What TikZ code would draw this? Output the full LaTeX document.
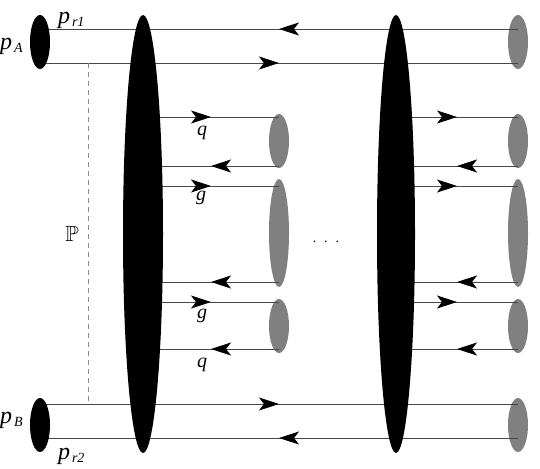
\documentclass[tikz,border=0pt]{standalone}
\usepackage{fontspec}
\usepackage{amssymb}
\setmainfont{Liberation Serif}
\usetikzlibrary{shapes.geometric,arrows.meta,decorations.markings}

\pgfdeclarelayer{bg}
\pgfdeclarelayer{mid}
\pgfsetlayers{bg,mid,main}

\tikzset{
  blob/.style={ellipse, fill=black, draw=none, inner sep=0pt, outer sep=0pt},
  greyblob/.style={ellipse, fill=black!50, draw=none, inner sep=0pt, outer sep=0pt},
  propline/.style={draw=black!72, line width=0.8pt},
  flowline/.style={propline, postaction={decorate, decoration={markings,
      mark=at position #1 with {\arrow{Stealth[length=20pt,width=13pt,inset=5pt,black]}}}}},
  flowline/.default=0.5,
  lbl/.style={inner sep=0pt, outer sep=0pt, font=\fontsize{20}{20}\selectfont\itshape},
  momlbl/.style={inner sep=0pt, outer sep=0pt, anchor=base west, font=\fontsize{24}{24}\selectfont},
}
\newcommand{\momentum}[1]{\textit{p}\hspace{2pt}\raisebox{-3pt}{\fontsize{14}{14}\selectfont\textit{#1}}}

\begin{document}
\begin{tikzpicture}[x=1pt,y=-1pt]
\useasboundingbox (0,0) rectangle (540,468);

% incoming hadrons
\node[blob, minimum width=20pt, minimum height=54pt] (pa) at (40,42) {};
\node[blob, minimum width=20pt, minimum height=54pt] (pb) at (40,425) {};

% the two big ladder blobs
\node[blob, minimum width=40pt, minimum height=438pt] (bl1) at (143,234) {};
\node[blob, minimum width=38pt, minimum height=438pt] (bl2) at (396,234) {};

% grey end caps
\begin{pgfonlayer}{bg}
  \node[greyblob, minimum width=20pt, minimum height=54pt] (gtr) at (518,42) {};
  \node[greyblob, minimum width=20pt, minimum height=54pt] (gbr) at (518,425) {};
  \node[greyblob, minimum width=20pt, minimum height=54pt] (lq1) at (279,141) {};
  \node[greyblob, minimum width=20pt, minimum height=108pt] (lg) at (279,233) {};
  \node[greyblob, minimum width=20pt, minimum height=54pt] (lq2) at (279,326) {};
  \node[greyblob, minimum width=20pt, minimum height=54pt] (rq1) at (518,141) {};
  \node[greyblob, minimum width=20pt, minimum height=108pt] (rg) at (518,233) {};
  \node[greyblob, minimum width=20pt, minimum height=54pt] (rq2) at (518,326) {};
\end{pgfonlayer}

% line levels on the caps
\path ([yshift=13pt]gtr.center) coordinate (t1)
      ([yshift=-21pt]gtr.center) coordinate (t2)
      ([yshift=21pt]gbr.center) coordinate (b1)
      ([yshift=-13pt]gbr.center) coordinate (b2)
      ([yshift=-3pt]lq1.north) coordinate (lq1a)
      ([yshift=2pt]lq1.south) coordinate (lq1b)
      ([yshift=-7pt]lg.north) coordinate (lga)
      ([yshift=5pt]lg.south) coordinate (lgb)
      ([yshift=-3pt]lq2.north) coordinate (lq2a)
      ([yshift=4pt]lq2.south) coordinate (lq2b)
      ([yshift=-3pt]rq1.north) coordinate (rq1a)
      ([yshift=2pt]rq1.south) coordinate (rq1b)
      ([yshift=-7pt]rg.north) coordinate (rga)
      ([yshift=5pt]rg.south) coordinate (rgb)
      ([yshift=-3pt]rq2.north) coordinate (rq2a)
      ([yshift=4pt]rq2.south) coordinate (rq2b);

\begin{pgfonlayer}{mid}
  % beam lines
  \draw[flowline] (t1) -- (pa.center |- t1);
  \draw[flowline] (pa.center |- t2) -- (t2);
  \draw[flowline] (pb.center |- b1) -- (b1);
  \draw[flowline] (b2) -- (pb.center |- b2);
  % first ladder
  \draw[flowline] (bl1.center |- lq1a) -- (lq1a);
  \draw[flowline] (lq1b) -- (bl1.center |- lq1b);
  \draw[flowline] (bl1.center |- lga) -- (lga);
  \draw[flowline] (lgb) -- (bl1.center |- lgb);
  \draw[flowline] (bl1.center |- lq2a) -- (lq2a);
  \draw[flowline] (lq2b) -- (bl1.center |- lq2b);
  % last ladder
  \draw[flowline] (bl2.center |- rq1a) -- (rq1a);
  \draw[flowline] (rq1b) -- (bl2.center |- rq1b);
  \draw[flowline] (bl2.center |- rga) -- (rga);
  \draw[flowline] (rgb) -- (bl2.center |- rgb);
  \draw[flowline] (bl2.center |- rq2a) -- (rq2a);
  \draw[flowline] (rq2b) -- (bl2.center |- rq2b);
\end{pgfonlayer}

% pomeron line
\coordinate (dtop) at (88,63);
\coordinate (dbot) at (88,404);
\draw[black!45, line width=0.9pt, dash pattern=on 5pt off 4pt] (dtop) -- (dbot);
\node[inner sep=0pt, font=\fontsize{22}{22}\selectfont] (pom) at (72,234) {$\mathbb{P}$};

% labels
\node[momlbl] (lpr1) at (58,24) {\momentum{r1}};
\node[momlbl] (lpa) at (0,50) {\momentum{A}};
\node[momlbl] (lpb) at (0,423) {\momentum{B}};
\node[momlbl] (lpr2) at (58,459) {\momentum{r2}};
\node[lbl] (lq) at (202,133) {q};
\node[lbl] (lgl) at (201,198) {g};
\node[lbl] (lg2) at (202,316) {g};
\node[lbl] (lq3) at (202,365) {q};

% ellipsis between the ladders
\node[inner sep=0pt, anchor=base, font=\fontsize{14}{14}\selectfont] (dots) at (326,242) {.\hspace{8pt}.\hspace{8pt}.};
\end{tikzpicture}
\end{document}
